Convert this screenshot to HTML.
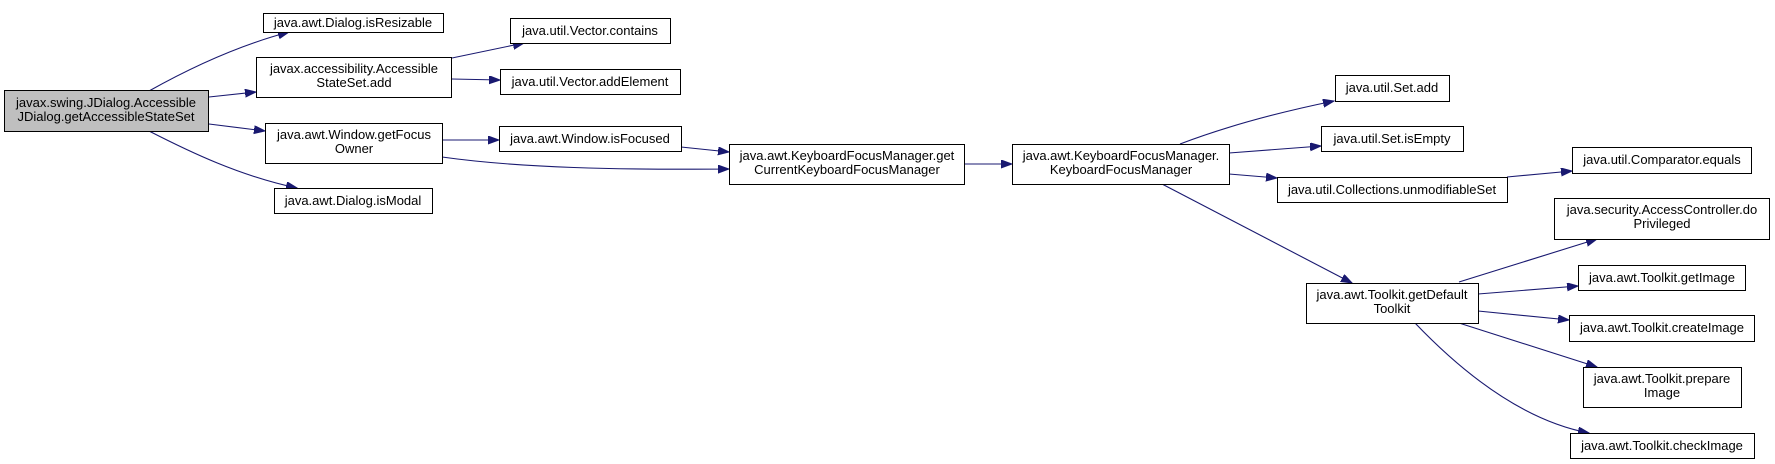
<!DOCTYPE html>
<html><head><meta charset="utf-8"><style>
html,body{margin:0;padding:0;background:#fff;}
svg{display:block;}
text{font-family:"Liberation Sans",Arial,sans-serif;font-size:13px;fill:#000;text-anchor:middle;}
.b{fill:#fff;stroke:#000;stroke-width:1;}
.e{fill:none;stroke:#191970;stroke-width:1.1;}
</style></head><body>
<svg width="1775" height="464" viewBox="0 0 1775 464" xmlns="http://www.w3.org/2000/svg">
<defs>
<marker id="a" markerUnits="userSpaceOnUse" markerWidth="12" markerHeight="10" refX="11" refY="4" orient="auto">
<path d="M0,0 L11,4 L0,8 Z" fill="#191970" stroke="#191970"/>
</marker>
</defs>
<path class="e" marker-end="url(#a)" d="M149,91 C190,68 240,45 289,32"/>
<path class="e" marker-end="url(#a)" d="M209,97 L256,92"/>
<path class="e" marker-end="url(#a)" d="M209,124 L265,131"/>
<path class="e" marker-end="url(#a)" d="M149,131 C190,152 240,176 297,188"/>
<path class="e" marker-end="url(#a)" d="M452,58 L524,43"/>
<path class="e" marker-end="url(#a)" d="M452,79 L500,80"/>
<path class="e" marker-end="url(#a)" d="M442,140 L499,140"/>
<path class="e" marker-end="url(#a)" d="M442,157 C520,168 620,170 729,169"/>
<path class="e" marker-end="url(#a)" d="M681,147 L729,152"/>
<path class="e" marker-end="url(#a)" d="M964,164 L1012,164"/>
<path class="e" marker-end="url(#a)" d="M1180,144 C1230,125 1280,112 1334,101"/>
<path class="e" marker-end="url(#a)" d="M1229,153 L1321,146"/>
<path class="e" marker-end="url(#a)" d="M1229,174 L1277,178"/>
<path class="e" marker-end="url(#a)" d="M1162,184 L1352,283"/>
<path class="e" marker-end="url(#a)" d="M1507,177 L1572,171"/>
<path class="e" marker-end="url(#a)" d="M1459,282 L1597,239"/>
<path class="e" marker-end="url(#a)" d="M1478,294 L1578,286"/>
<path class="e" marker-end="url(#a)" d="M1478,311 L1569,320"/>
<path class="e" marker-end="url(#a)" d="M1459,323 L1597,367"/>
<path class="e" marker-end="url(#a)" d="M1415,323 C1460,370 1520,420 1589,433"/>

<rect x="4.5" y="90.5" width="204" height="41" fill="#bfbfbf" stroke="#000"/>
<text x="106" y="107">javax.swing.JDialog.Accessible</text>
<text x="106" y="121">JDialog.getAccessibleStateSet</text>

<rect class="b" x="263.5" y="13.5" width="180" height="19"/><text x="353" y="27">java.awt.Dialog.isResizable</text>
<rect class="b" x="256.5" y="57.5" width="195" height="40"/><text x="354" y="73">javax.accessibility.Accessible</text><text x="354" y="87">StateSet.add</text>
<rect class="b" x="265.5" y="123.5" width="177" height="40"/><text x="354" y="139">java.awt.Window.getFocus</text><text x="354" y="153">Owner</text>
<rect class="b" x="274.5" y="188.5" width="158" height="25"/><text x="353" y="205">java.awt.Dialog.isModal</text>

<rect class="b" x="510.5" y="18.5" width="160" height="25"/><text x="590" y="35">java.util.Vector.contains</text>
<rect class="b" x="500.5" y="69.5" width="180" height="25"/><text x="590" y="86">java.util.Vector.addElement</text>
<rect class="b" x="499.5" y="126.5" width="182" height="25"/><text x="590" y="143">java.awt.Window.isFocused</text>
<rect class="b" x="729.5" y="144.5" width="235" height="40"/><text x="847" y="160">java.awt.KeyboardFocusManager.get</text><text x="847" y="174">CurrentKeyboardFocusManager</text>

<rect class="b" x="1012.5" y="144.5" width="217" height="40"/><text x="1121" y="160">java.awt.KeyboardFocusManager.</text><text x="1121" y="174">KeyboardFocusManager</text>

<rect class="b" x="1335.5" y="75.5" width="114" height="26"/><text x="1392" y="92">java.util.Set.add</text>
<rect class="b" x="1321.5" y="126.5" width="142" height="25"/><text x="1392" y="143">java.util.Set.isEmpty</text>
<rect class="b" x="1277.5" y="177.5" width="230" height="25"/><text x="1392" y="194">java.util.Collections.unmodifiableSet</text>
<rect class="b" x="1306.5" y="283.5" width="172" height="40"/><text x="1392" y="299">java.awt.Toolkit.getDefault</text><text x="1392" y="313">Toolkit</text>

<rect class="b" x="1572.5" y="147.5" width="179" height="26"/><text x="1662" y="164">java.util.Comparator.equals</text>
<rect class="b" x="1554.5" y="198.5" width="215" height="41"/><text x="1662" y="214">java.security.AccessController.do</text><text x="1662" y="228">Privileged</text>
<rect class="b" x="1578.5" y="265.5" width="167" height="25"/><text x="1662" y="282">java.awt.Toolkit.getImage</text>
<rect class="b" x="1569.5" y="315.5" width="185" height="26"/><text x="1662" y="332">java.awt.Toolkit.createImage</text>
<rect class="b" x="1583.5" y="367.5" width="158" height="40"/><text x="1662" y="383">java.awt.Toolkit.prepare</text><text x="1662" y="397">Image</text>
<rect class="b" x="1570.5" y="433.5" width="184" height="25"/><text x="1662" y="450">java.awt.Toolkit.checkImage</text>
</svg>
</body></html>
